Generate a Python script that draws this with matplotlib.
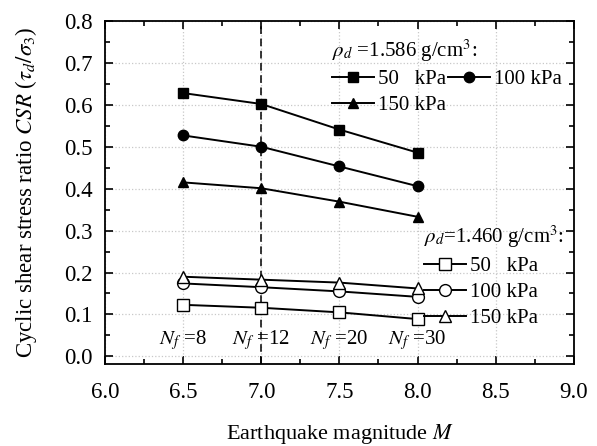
import numpy as np
import matplotlib
matplotlib.use('Agg')
import matplotlib.pyplot as plt
from matplotlib.ticker import MultipleLocator, FormatStrFormatter

plt.rcParams['font.family'] = ['Liberation Serif', 'DejaVu Serif']
plt.rcParams['mathtext.fontset'] = 'stix'
plt.rcParams['font.size'] = 14

# Earthquake magnitude and equivalent cycle numbers
magnitude = [6.5, 7.0, 7.5, 8.0]
nf_labels = ['8', '12', '20', '30']

# rho_d = 1.586 g/cm3
dense_50 = [0.628, 0.602, 0.541, 0.486]
dense_100 = [0.527, 0.500, 0.453, 0.406]
dense_150 = [0.415, 0.401, 0.369, 0.333]

# rho_d = 1.460 g/cm3
loose_50 = [0.123, 0.116, 0.105, 0.089]
loose_100 = [0.174, 0.165, 0.155, 0.142]
loose_150 = [0.190, 0.183, 0.176, 0.162]

fig = plt.figure(figsize=(5.97, 4.46), dpi=100)
ax = fig.add_axes([0.176, 0.184, 0.785, 0.769])

kw = dict(color='black', linewidth=1.4, markersize=7.5)
l1, = ax.plot(magnitude, dense_50, marker='s', **kw)
l2, = ax.plot(magnitude, dense_100, marker='o', **kw)
l3, = ax.plot(magnitude, dense_150, marker='^', **kw)

okw = dict(color='black', linewidth=1.4, markersize=8.5, markerfacecolor='white')
o1, = ax.plot(magnitude, loose_50, marker='s', **okw)
o2, = ax.plot(magnitude, loose_100, marker='o', **okw)
o3, = ax.plot(magnitude, loose_150, marker='^', **okw)

ax.axvline(7.0, color='black', linestyle=(0, (5, 3)), linewidth=1.1, zorder=1)

for m, n in zip(magnitude, nf_labels):
    ax.text(m, 0.04, r'$N_f$ =' + n, ha='center', va='center', fontsize=15)

ax.set_xlim(6.0, 9.0)
ax.set_ylim(-0.018, 0.8)
ax.xaxis.set_major_locator(MultipleLocator(0.5))
ax.xaxis.set_minor_locator(MultipleLocator(0.25))
ax.yaxis.set_major_locator(MultipleLocator(0.1))
ax.yaxis.set_minor_locator(MultipleLocator(0.05))
ax.xaxis.set_major_formatter(FormatStrFormatter('%.1f'))
ax.yaxis.set_major_formatter(FormatStrFormatter('%.1f'))
ax.tick_params(which='both', direction='in', top=True, right=True, width=1.2)
ax.tick_params(which='major', length=6, labelsize=16.5)
ax.tick_params(axis='x', which='major', pad=13)
ax.tick_params(axis='y', which='major', pad=9)
ax.tick_params(which='minor', length=3.5)
for s in ax.spines.values():
    s.set_linewidth(1.3)
ax.grid(True, which='major', color='#c8c8c8', linestyle=':', linewidth=0.9)
ax.set_axisbelow(True)

ax.set_xlabel(r'Earthquake magnitude $M$', fontsize=16, labelpad=14)
ax.set_ylabel(r'Cyclic shear stress ratio $CSR$ ($\tau_d/\sigma_3$)', fontsize=16.5, labelpad=18)

leg1 = ax.legend([l1, l3, l2], ['50   kPa', '150 kPa', '100 kPa'], ncol=2,
                 title=r'$\rho_d$ =1.586 g/cm$^3$:', alignment='left',
                 frameon=False, loc='upper left', bbox_to_anchor=(0.475, 0.965),
                 fontsize=15, title_fontsize=15, handlelength=2.0,
                 handletextpad=0.2, columnspacing=0.1, labelspacing=0.3,
                 borderaxespad=0, borderpad=0.2)
ax.add_artist(leg1)
ax.legend([o1, o2, o3], ['50   kPa', '100 kPa', '150 kPa'],
          title=r'$\rho_d$=1.460 g/cm$^3$:', alignment='left',
          frameon=False, loc='upper left', bbox_to_anchor=(0.672, 0.42),
          fontsize=15, title_fontsize=15, handlelength=2.0,
          handletextpad=0.2, labelspacing=0.3, borderaxespad=0, borderpad=0.2)

fig.savefig('out.png', dpi=100)
